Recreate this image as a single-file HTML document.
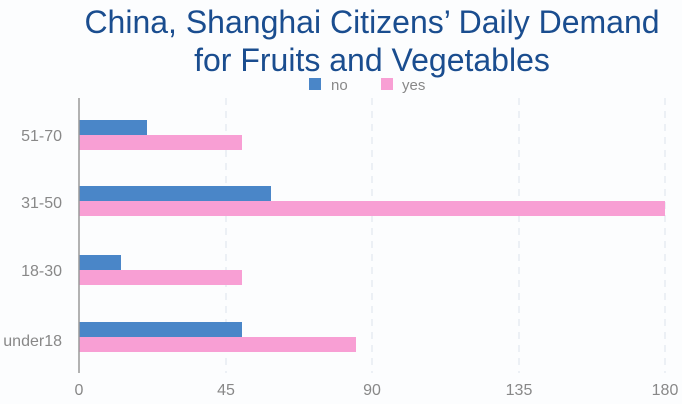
<!DOCTYPE html>
<html><head><meta charset="utf-8"><style>
body{margin:0;background:#fcfdfe;}
svg{display:block;font-family:"Liberation Sans",Arial,sans-serif;}
</style></head><body>
<svg width="682" height="404" viewBox="0 0 682 404">
<rect width="682" height="404" fill="#fcfdfe"/>
<text x="372" y="33" text-anchor="middle" font-size="32" fill="#1a4d8f">China, Shanghai Citizens’ Daily Demand</text>
<text x="372" y="71" text-anchor="middle" font-size="32" fill="#1a4d8f">for Fruits and Vegetables</text>
<rect x="309" y="78" width="12" height="12" fill="#4a86c8"/>
<text x="331" y="90" font-size="15" fill="#888">no</text>
<rect x="381" y="78" width="12" height="12" fill="#f89fd4"/>
<text x="402" y="90" font-size="15" fill="#888">yes</text>
<g stroke="#dde3ec" stroke-dasharray="7,6" stroke-width="1">
<line x1="226" y1="98" x2="226" y2="373"/>
<line x1="372" y1="98" x2="372" y2="373"/>
<line x1="519" y1="98" x2="519" y2="373"/>
<line x1="665" y1="98" x2="665" y2="373"/>
</g>
<g fill="#4a86c8">
<rect x="79" y="120" width="68" height="15"/>
<rect x="79" y="186" width="192" height="15"/>
<rect x="79" y="255" width="42" height="15"/>
<rect x="79" y="322" width="163" height="15"/>
</g>
<g fill="#f89fd4">
<rect x="79" y="135" width="163" height="15"/>
<rect x="79" y="201" width="586" height="15"/>
<rect x="79" y="270" width="163" height="15"/>
<rect x="79" y="337" width="277" height="15"/>
</g>
<line x1="79" y1="98" x2="79" y2="373" stroke="#999" stroke-width="1.5"/>
<g font-size="16" fill="#888" text-anchor="end">
<text x="62" y="141">51-70</text>
<text x="62" y="208">31-50</text>
<text x="62" y="276">18-30</text>
<text x="62" y="346">under18</text>
</g>
<g font-size="16" fill="#888" text-anchor="middle">
<text x="79" y="395">0</text>
<text x="226" y="395">45</text>
<text x="372" y="395">90</text>
<text x="519" y="395">135</text>
<text x="665" y="395">180</text>
</g>
</svg>
</body></html>
